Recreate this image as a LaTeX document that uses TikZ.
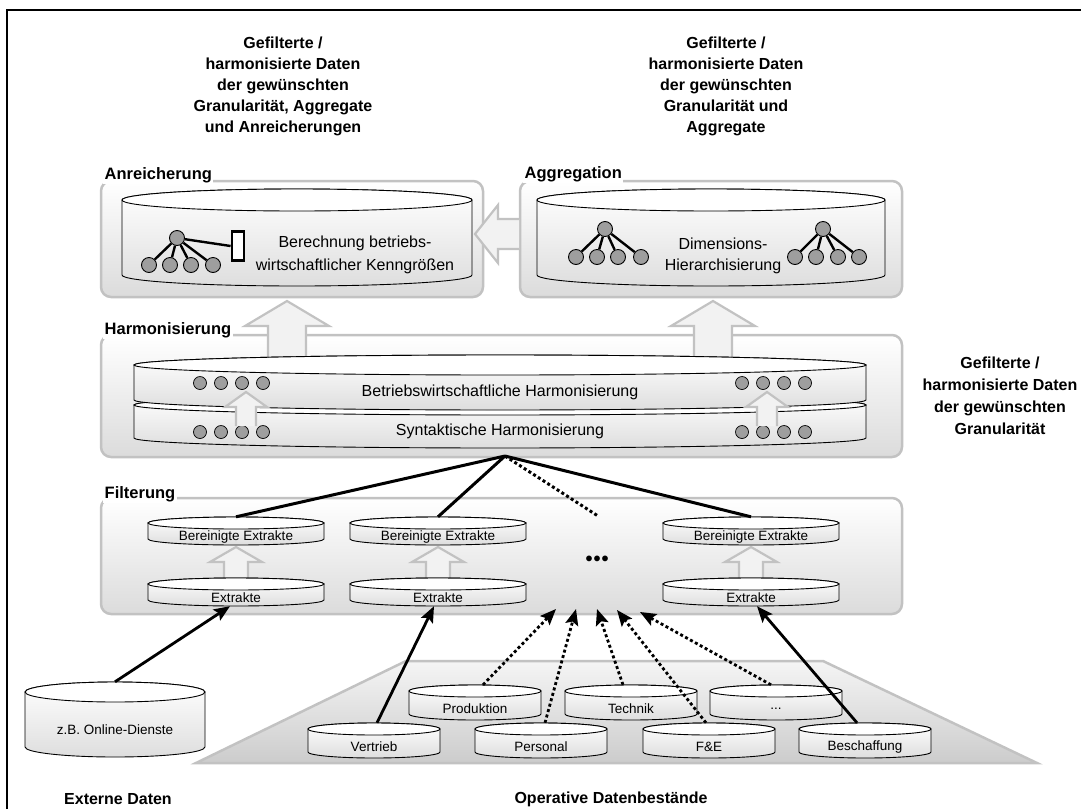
\documentclass[tikz,border=0pt]{standalone}
\usepackage{fontspec}
\setmainfont{Liberation Sans}
\usetikzlibrary{calc,arrows.meta}
\pgfdeclarelayer{l0}
\pgfdeclarelayer{l1}
\pgfdeclarelayer{l2}
\pgfsetlayers{l0,l1,l2,main}
\definecolor{pborder}{gray}{0.76}
\definecolor{pfillb}{gray}{0.86}
\definecolor{afill}{gray}{0.95}
\definecolor{dotgray}{gray}{0.62}
\newcommand\fs[1]{\fontsize{#1}{#1}\selectfont}
\tikzset{
  panel/.style={draw=pborder, line width=2.5pt, rounded corners=10pt, top color=white, bottom color=pfillb, inner sep=0pt},
  plabel/.style={font=\bfseries\fs{16.5}, fill=white, inner sep=1.5pt, anchor=west},
  hollow/.style={draw=pborder, line width=2.2pt, fill=afill, line join=miter},
  cylbody/.style={draw=black, line width=0.9pt, top color=white, bottom color=black!13},
  cyltop/.style={draw=black, line width=0.9pt, fill=white},
  cylnode/.style={inner sep=0pt},
  hdot/.style={circle, draw=black, line width=0.7pt, fill=dotgray, minimum size=13pt, inner sep=0pt},
  tdot/.style={circle, draw=black, line width=0.9pt, fill=dotgray, minimum size=15pt, inner sep=0pt},
  title/.style={font=\bfseries\fontsize{16}{21}\selectfont, align=center},
  conn/.style={line width=3pt},
  tline/.style={line width=2.4pt},
  arr/.style={line width=2.8pt, -{Stealth[length=16pt,width=13pt,inset=3pt]}},
  darr/.style={arr, dash pattern=on 3pt off 2.6pt},
}
% #1 options, #2 name, #3 cx, #4 y of top ellipse centre, #5 y of bottom arc centre, #6 width, #7 ry, #8 text
\newcommand\cylnode[8][]{%
  \node[cylnode,minimum width=#6pt,minimum height={(#5-#4)*1pt},#1] (#2) at (#3,{(#4+#5)/2+#7}) {#8};
  \begin{pgfonlayer}{l2}
    \path[cylbody] (#3-#6/2,#4) -- (#3-#6/2,#5)
      arc[start angle=180,end angle=360,x radius=#6/2*1pt,y radius=#7*1pt]
      -- (#3+#6/2,#4)
      arc[start angle=0,end angle=180,x radius=#6/2*1pt,y radius=#7*1pt] -- cycle;
    \path[cyltop] (#3,#4) ellipse[x radius=#6/2*1pt,y radius=#7*1pt];
  \end{pgfonlayer}
}
\begin{document}
\begin{tikzpicture}[x=1pt,y=-1pt]
\useasboundingbox (0,0) rectangle (1081,809);
% outer frame
\draw[line width=2pt] (7,809) -- (7,10) -- (1081,10);

% titles
\node[title] (t1) at (283,86) {Gefilterte /\\harmonisierte Daten\\der gewünschten\\Granularität, Aggregate\\und Anreicherungen};
\node[title] (t2) at (726,86) {Gefilterte /\\harmonisierte Daten\\der gewünschten\\Granularität und\\Aggregate};
\node[title, font=\bfseries\fontsize{16}{22}\selectfont] (t3) at (1000,396) {Gefilterte /\\harmonisierte Daten\\der gewünschten\\Granularität};
\node[font=\bfseries\fs{16}] (bx) at (118,799) {Externe Daten};
\node[font=\bfseries\fs{16}] (bo) at (611,799) {Operative Datenbestände};

% panels
\begin{pgfonlayer}{l0}
  \node[panel, minimum width=382pt, minimum height=116pt] (pA) at (292,239) {};
  \node[panel, minimum width=382pt, minimum height=116pt] (pG) at (711,239) {};
  \node[panel, minimum width=801pt, minimum height=122pt] (pH) at (501.5,396) {};
  \node[panel, minimum width=801pt, minimum height=116pt] (pF) at (501.5,556) {};
  \path[draw=pborder, line width=2.5pt, top color=black!4, bottom color=black!20]
    (196,763) -- (406,661) -- (823,661) -- (1037,763) -- cycle;
\end{pgfonlayer}
\node[plabel] (lA) at (103,175) {Anreicherung};
\node[plabel] (lG) at (523,174) {Aggregation};
\node[plabel] (lH) at (103,330) {Harmonisierung};
\node[plabel] (lF) at (103,494) {Filterung};

% hollow arrows
\begin{pgfonlayer}{l1}
  \path[hollow] (519,219) -- (498,219) -- (498,205) -- (475,234) -- (498,263) -- (498,249) -- (519,249);
  \foreach \cx in {287,713}{
    \path[hollow] (\cx-19,362) -- (\cx-19,326) -- (\cx-42,326) -- (\cx,301) -- (\cx+42,326) -- (\cx+19,326) -- (\cx+19,362);
  }
  \foreach \cx in {236,438,751}{
    \path[hollow] (\cx-12,583) -- (\cx-12,562) -- (\cx-26,562) -- (\cx,547) -- (\cx+26,562) -- (\cx+12,562) -- (\cx+12,583);
  }
\end{pgfonlayer}

% upper cylinders
\cylnode{cA}{297}{200}{275}{350}{11}{}
\cylnode{cG}{711}{200}{275}{348}{11}{}
\node[font=\fontsize{16}{23}\selectfont, align=center] (cAt) at (355,255) {Berechnung betriebs-\\wirtschaftlicher Kenngrößen};
\node[font=\fontsize{16}{21}\selectfont, align=center] (cGt) at (723,256) {Dimensions-\\Hierarchisierung};

% trees
\node[tdot] (ar) at (177,238) {};
\foreach \i/\x in {1/149,2/170,3/191,4/213}{
  \node[tdot] (ac\i) at (\x,265) {};
  \draw[tline] (ar) -- (ac\i);
}
\node[draw, line width=2.8pt, fill=white, minimum width=12pt, minimum height=29pt, inner sep=0pt] (arect) at (238,246) {};
\draw[tline] (ar) -- (arect.west);
\node[tdot] (gl) at (605,229) {};
\foreach \i/\x in {1/576,2/597,3/618,4/641}{
  \node[tdot] (glc\i) at (\x,257) {};
  \draw[tline] (gl) -- (glc\i);
}
\node[tdot] (gr) at (823,229) {};
\foreach \i/\x in {1/795,2/816,3/838,4/859}{
  \node[tdot] (grc\i) at (\x,257) {};
  \draw[tline] (gr) -- (grc\i);
}

% harmonisation cylinders
\cylnode{hs}{500}{405}{438}{732}{10}{\fs{16}Syntaktische Harmonisierung}
\cylnode{hb}{500}{365}{400}{732}{10}{\fs{16}Betriebswirtschaftliche Harmonisierung}
\foreach \x in {200,221,242,263,742,763,784,805}{
  \node[hdot] (hd1-\x) at (\x,383) {};
  \node[hdot] (hd2-\x) at (\x,432) {};
}
\foreach \cx in {246,767}{
  \path[hollow] (\cx-10,426) -- (\cx-10,407) -- (\cx-21,407) -- (\cx,392) -- (\cx+21,407) -- (\cx+10,407) -- (\cx+10,426);
}

% filter cylinders
\cylnode{b1}{236}{523}{539}{176}{6}{\fs{13.5}Bereinigte Extrakte}
\cylnode{b2}{438}{523}{539}{176}{6}{\fs{13.5}Bereinigte Extrakte}
\cylnode{b3}{751}{523}{539}{176}{6}{\fs{13.5}Bereinigte Extrakte}
\cylnode{e1}{236}{584}{600}{176}{6}{\fs{13.5}Extrakte}
\cylnode{e2}{438}{584}{600}{176}{6}{\fs{13.5}Extrakte}
\cylnode{e3}{751}{584}{600}{176}{6}{\fs{13.5}Extrakte}
\node[font=\bfseries\fs{20}] (ell) at (597,561) {•\kern1pt•\kern1pt•};

% sources
\cylnode{ext}{115}{692}{747}{180}{10}{\fs{13.5}z.B. Online-Dienste}
\cylnode{prod}{475}{691}{714}{132}{6}{\fs{13.5}Produktion}
\cylnode{tech}{631}{691}{714}{132}{6}{\fs{13.5}Technik}
\cylnode{etc}{776}{691}{714}{132}{6}{\fs{13.5}...}
\cylnode{vert}{374}{729}{752}{132}{6}{\fs{13.5}Vertrieb}
\cylnode{pers}{541}{729}{752}{132}{6}{\fs{13.5}Personal}
\cylnode{fe}{709}{729}{752}{132}{6}{\fs{13.5}F\&E}
\cylnode{besch}{865}{729}{752}{132}{6}{\fs{13.5}Beschaffung}

% connectors from harmonisation to filtered extracts
\coordinate (hub) at (505,456);
\coordinate (dotend) at (598,516);
\draw[conn] (hub) -- ([yshift=12pt]b1.north);
\draw[conn] (hub) -- ([yshift=12pt]b2.north);
\draw[conn] (hub) -- ([yshift=12pt]b3.north);
\draw[conn, dash pattern=on 3pt off 2.6pt] (hub) -- (dotend);

% arrows into extracts
\coordinate (d1) at (556,609);
\coordinate (d2) at (576,609);
\coordinate (d3) at (597,609);
\coordinate (d4) at (617,610);
\coordinate (d5) at (640,612);
\draw[arr] ([yshift=20pt]ext.north) -- ([xshift=-6pt]e1.south);
\draw[arr] ([xshift=3pt,yshift=12pt]vert.north) -- ([xshift=-4pt]e2.south);
\draw[arr] ([xshift=-8pt,yshift=12pt]besch.north) -- ([xshift=6pt]e3.south);
\draw[darr] ([xshift=8pt,yshift=12pt]prod.north) -- (d1);
\draw[darr] ([xshift=4pt,yshift=12pt]pers.north) -- (d2);
\draw[darr] ([xshift=-8pt,yshift=12pt]tech.north) -- (d3);
\draw[darr] ([xshift=-3pt,yshift=12pt]fe.north) -- (d4);
\draw[darr] ([xshift=-5pt,yshift=12pt]etc.north) -- (d5);
\end{tikzpicture}
\end{document}
